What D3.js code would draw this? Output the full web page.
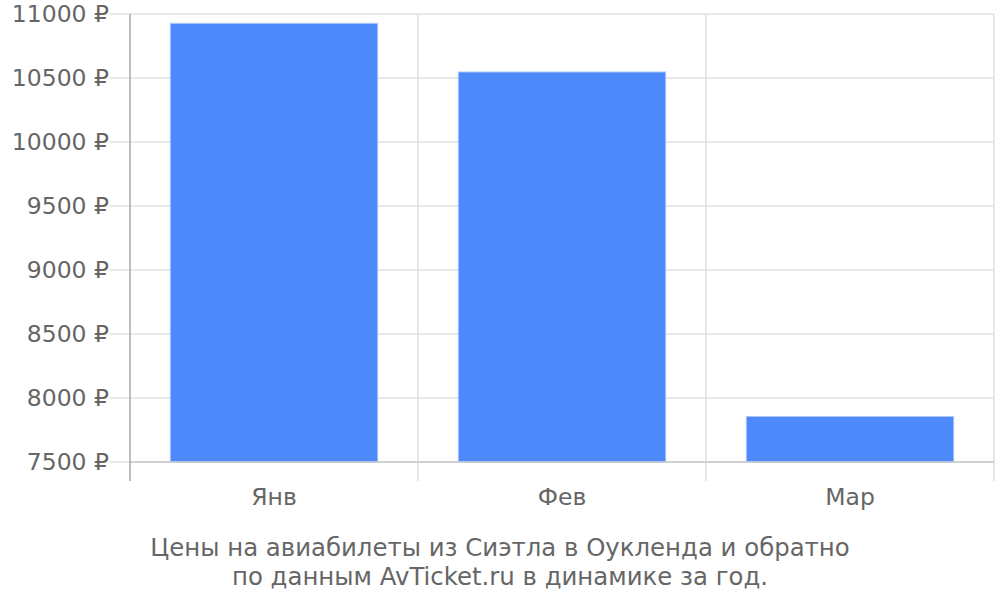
<!DOCTYPE html>
<html><head><meta charset="utf-8">
<script src="https://cdn.jsdelivr.net/npm/d3@7"></script>
<style>body{margin:0;background:#fff;}svg text{font-family:"DejaVu Sans",sans-serif;fill:#666;}</style>
</head><body><svg id="c" width="1000" height="600"></svg>
<script>
const categories = ["Янв", "Фев", "Мар"];
const prices = [10927, 10547, 7855];
const yTicks = [7500, 8000, 8500, 9000, 9500, 10000, 10500, 11000];
const captionLines = ["Цены на авиабилеты из Сиэтла в Оукленда и обратно", "по данным AvTicket.ru в динамике за год."];

const svg = d3.select("#c");
const L = 130, R = 994, T = 14, B = 462;
const x = d3.scaleBand().domain(categories).range([L, R]).paddingInner(0.28).paddingOuter(0.14);
const y = d3.scaleLinear().domain([7500, 11000]).range([B, T]);

// horizontal grid + left ticks
svg.append("g").selectAll("line").data(yTicks).join("line")
  .attr("x1", L - 20).attr("x2", R).attr("y1", d => y(d)).attr("y2", d => y(d))
  .attr("stroke", "#e0e0e0").attr("stroke-width", 1.5);
// vertical grid
const bounds = categories.map(c => x(c) - x.step() * x.paddingInner() / 2 + x.step());
svg.append("g").selectAll("line").data(bounds).join("line")
  .attr("x1", d => d).attr("x2", d => d).attr("y1", T).attr("y2", B + 19)
  .attr("stroke", "#e0e0e0").attr("stroke-width", 1.5);
// y labels
svg.append("g").selectAll("text").data(yTicks).join("text")
  .attr("x", L - 21).attr("y", d => y(d)).attr("dy", "0.35em").attr("text-anchor", "end")
  .style("font-size", "23.5px").text(d => d + " ₽");
// bars
svg.append("g").selectAll("rect").data(prices).join("rect")
  .attr("x", (d, i) => x(categories[i])).attr("width", x.bandwidth())
  .attr("y", d => y(d)).attr("height", d => B - y(d))
  .attr("fill", "#4d89fa").attr("stroke", "#a9c6fc").attr("stroke-width", 1);
// axes lines
svg.append("line").attr("x1", L).attr("x2", R).attr("y1", B).attr("y2", B)
  .attr("stroke", "#c8c8c8").attr("stroke-width", 1.5);
svg.append("line").attr("x1", L).attr("x2", L).attr("y1", T).attr("y2", B + 19)
  .attr("stroke", "#aaaaaa").attr("stroke-width", 1.5);
// x labels
svg.append("g").selectAll("text").data(categories).join("text")
  .attr("x", d => x(d) + x.bandwidth() / 2).attr("y", 497).attr("dy", "0.35em")
  .attr("text-anchor", "middle").style("font-size", "23.5px").text(d => d);
// caption
svg.append("g").selectAll("text").data(captionLines).join("text")
  .attr("x", 500).attr("y", (d, i) => 547 + i * 29).attr("dy", "0.35em")
  .attr("text-anchor", "middle").style("font-size", "24.4px").text(d => d);
</script></body></html>
